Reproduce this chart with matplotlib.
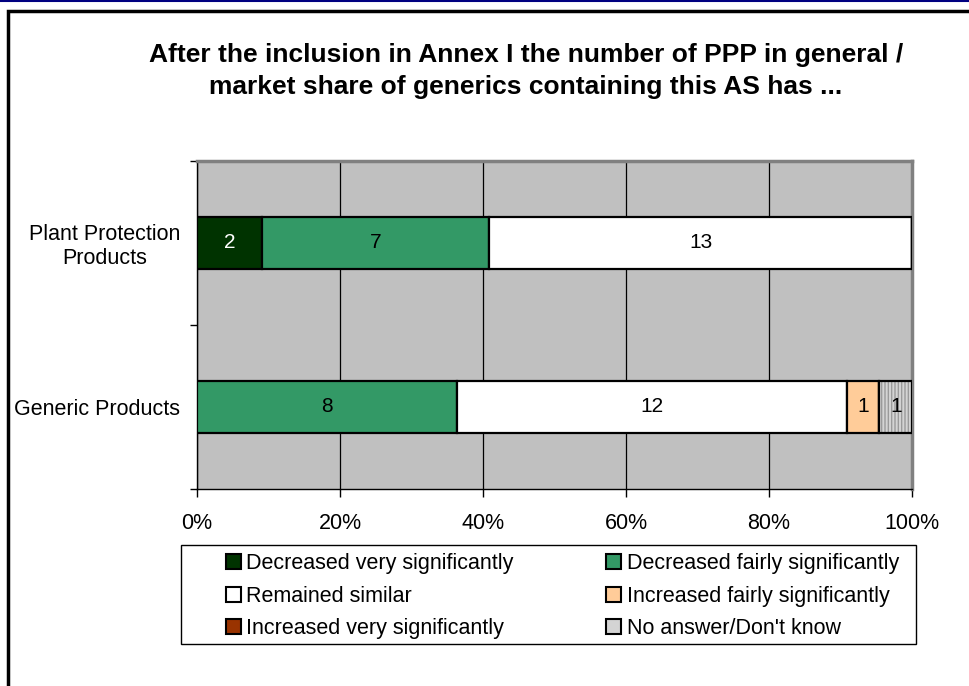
import numpy as np
import matplotlib.pyplot as plt
from matplotlib.patches import Patch, Rectangle
from matplotlib.lines import Line2D

plt.rcParams['font.family'] = ['Liberation Sans', 'DejaVu Sans']

# answers per category (top to bottom as shown)
categories = ['Plant Protection\nProducts', 'Generic Products']
series_names = ['Decreased very significantly', 'Decreased fairly significantly',
                'Remained similar', 'Increased fairly significantly',
                'Increased very significantly', "No answer/Don't know"]
dec_very = [2, 0]
dec_fairly = [7, 8]
remained = [13, 12]
inc_fairly = [0, 1]
inc_very = [0, 0]
no_answer = [0, 1]
colors = ['#003300', '#339966', '#FFFFFF', '#FFCC99', '#993300', '#D4D4D4']
label_colors = ['white', 'black', 'black', 'black', 'white', 'black']
tick_labels = ['0%', '20%', '40%', '60%', '80%', '100%']

W, H = 970, 686
fs = 15.5
fig = plt.figure(figsize=(W / 100, H / 100), dpi=100)

# outer frame and blue top line like the source sheet
fig.add_artist(Rectangle((8 / W, -0.05), 1.2, 1 - 11 / H + 0.05, transform=fig.transFigure,
                         fill=False, edgecolor='black', linewidth=2.5))
fig.add_artist(Line2D([0, 1], [1 - 1 / H, 1 - 1 / H], transform=fig.transFigure,
                      color='#000080', linewidth=1.5))

fig.text(526 / W, 1 - 71 / H,
         'After the inclusion in Annex I the number of PPP in general /\n'
         'market share of generics containing this AS has ...',
         ha='center', va='center', fontsize=19, fontweight='bold', linespacing=1.45)

ax = fig.add_axes([197 / W, 1 - 489 / H, 715 / W, 328 / H])
ax.set_facecolor('#C0C0C0')

data = np.array([dec_very, dec_fairly, remained, inc_fairly, inc_very, no_answer], dtype=float)
totals = data.sum(axis=0)
pct = data / totals * 100
y = np.arange(len(categories))
left = np.zeros(len(categories))
bar_h = 0.32

for i, name in enumerate(series_names):
    if name.startswith('No answer'):
        ax.barh(y, pct[i], left=left, height=bar_h, color=colors[i], edgecolor='#9A9A9A',
                hatch='|||||', linewidth=0, zorder=3)
        ax.barh(y, pct[i], left=left, height=bar_h, fill=False, edgecolor='black',
                linewidth=1.6, zorder=4)
    else:
        ax.barh(y, pct[i], left=left, height=bar_h, color=colors[i], edgecolor='black',
                linewidth=1.6, zorder=3)
    for j in range(len(categories)):
        if data[i, j] > 0:
            ax.text(left[j] + pct[i, j] / 2, y[j], '%d' % data[i, j], ha='center', va='center',
                    fontsize=15, color=label_colors[i], zorder=5)
    left += pct[i]

ax.set_xlim(0, 100)
ax.set_ylim(1.5, -0.5)
ax.set_xticks(np.arange(0, 101, 20))
ax.set_xticklabels(tick_labels, fontsize=fs)
ax.tick_params(axis='x', length=6, width=1, pad=11, direction='out')
ax.set_yticks([-0.5, 0.5, 1.5])
ax.set_yticklabels([])
ax.set_yticks(y, minor=True)
ax.set_yticklabels(categories, minor=True, fontsize=fs)
ax.tick_params(axis='y', which='major', length=5, width=1, direction='out')
ax.tick_params(axis='y', which='minor', length=0, pad=12)
for t in ax.get_yticklabels(minor=True):
    t.set_multialignment('center')
    t.set_linespacing(1.15)
ax.grid(axis='x', color='black', linewidth=0.9, zorder=1)
ax.set_axisbelow(True)
for s in ['top', 'right']:
    ax.spines[s].set_color('#808080')
    ax.spines[s].set_linewidth(2.5)
for s in ['left', 'bottom']:
    ax.spines[s].set_color('black')
    ax.spines[s].set_linewidth(1)

# legend box drawn separately, entries filled row by row
fig.add_artist(Rectangle((181 / W, 1 - 644 / H), 735 / W, 99 / H, transform=fig.transFigure,
                         fill=False, edgecolor='black', linewidth=1))
handles = [Patch(facecolor=c, edgecolor='black', linewidth=1.5) for c in colors]
order = [0, 2, 4, 1, 3, 5]
fig.legend([handles[k] for k in order], [series_names[k] for k in order],
           ncol=2, loc='upper left', bbox_to_anchor=(226 / W, 1 - 553 / H),
           fontsize=fs, frameon=False,
           handlelength=0.7, handleheight=0.7, handletextpad=0.25,
           labelspacing=0.54, columnspacing=4.3, borderpad=0, borderaxespad=0)

fig.savefig('out.png', dpi=100)
